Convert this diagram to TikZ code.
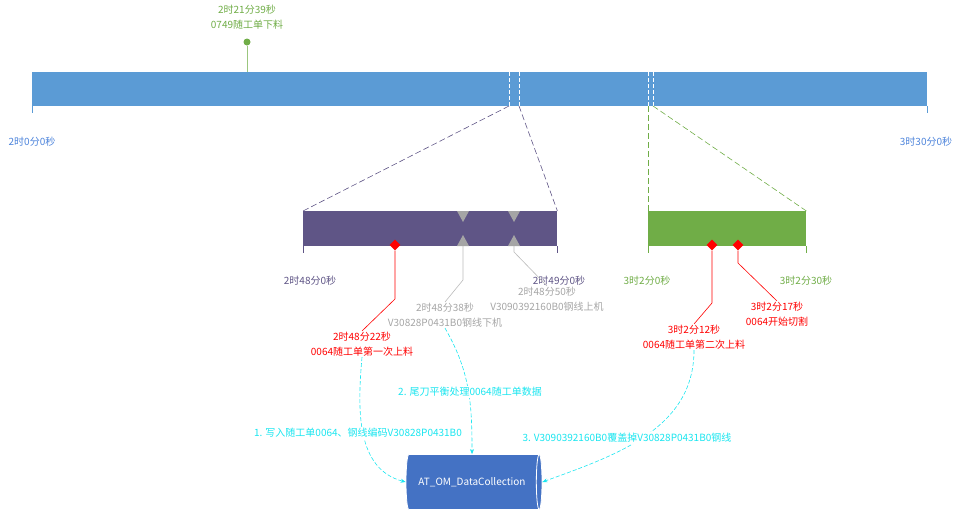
\documentclass[tikz,border=0pt]{standalone}
\usepackage{fontspec}
\setmainfont{Noto Sans CJK SC}
\usetikzlibrary{positioning,shapes.geometric,arrows.meta}
\tikzstyle{timeline} = [x = 1pt, y = -1pt, every node/.style={font=\fontsize{10}{14.5}\selectfont, inner sep=1pt, align=center}]
\definecolor{barBlue}{HTML}{5B9BD5}
\definecolor{zoomPurple}{HTML}{5F5586}
\definecolor{zoomGreen}{HTML}{70AD47}
\definecolor{markGrey}{HTML}{A5A5A5}
\definecolor{stepCyan}{HTML}{1AE6F0}
\definecolor{dbBlue}{HTML}{4472C4}
\tikzstyle{barStyle} = [rectangle, inner sep=0pt, anchor=north west]
\tikzstyle{bandLine} = [white, dash pattern=on 4pt off 2pt, line width=.8pt]
\tikzstyle{zoomLine} = [dash pattern=on 6pt off 3pt, line width=.6pt]
\tikzstyle{eventMark} = [diamond, fill=red, inner sep=0pt, minimum size=11pt]
\tikzstyle{eventLeader} = [red, line width=.6pt]
\tikzstyle{wireLeader} = [markGrey!75, line width=.6pt]
\tikzstyle{eventText} = [red, anchor=north]
\tikzstyle{wireText} = [markGrey, anchor=north]
\tikzstyle{stepArrow} = [stepCyan, dash pattern=on 4pt off 2pt, line width=.6pt, -{Stealth[length=5pt,width=4pt]}]
\tikzstyle{stepText} = [stepCyan, fill=white]
\newcommand{\wireMarker}[2]{
  \fill [markGrey] (#1 - 6, 211) -- (#1 + 6, 211) -- (#1, 222) -- cycle;
  \fill [markGrey] (#1 - 6, 246) -- (#1 + 6, 246) -- (#1, 235) -- cycle;
  \coordinate (#2) at (#1, 246);
}
\newcommand{\barTicks}[3]{
  \draw [#3, line width=.8pt] (#1) -- +(0,7);
  \draw [#3, line width=.8pt] (#2) -- +(0,7);
}

\begin{document}
\begin{tikzpicture}[timeline]
  \useasboundingbox (0,0) rectangle (961,512);
  % whole shift
  \node [barStyle, fill=barBlue, minimum width=895pt, minimum height=34pt] (mainBar) at (32,72) {};
  \barTicks{mainBar.south west}{mainBar.south east}{barBlue}
  \foreach \x in {509,519,648,653} {
    \draw [bandLine] (\x,72) -- (\x,106);
  }
  \coordinate (purpleLeft) at (509,106);
  \coordinate (purpleRight) at (519,106);
  \coordinate (greenLeft) at (648,106);
  \coordinate (greenRight) at (653,106);
  \node [barBlue!85!blue] (startTime) at (32,142) {2时0分0秒};
  \node [barBlue!85!blue] (endTime) at (926,142) {3时30分0秒};
  \node [circle, fill=zoomGreen, inner sep=0pt, minimum size=7pt] (cutPin) at (247,42) {};
  \node [zoomGreen, anchor=south] (cutText) at (247,30) {2时21分39秒\\0749随工单下料};
  \draw [zoomGreen!70, line width=.8pt] (cutPin) -- (cutPin |- mainBar.north);

  % zoomed bars
  \node [barStyle, fill=zoomPurple, minimum width=254pt, minimum height=35pt] (purpleBar) at (303,211) {};
  \node [barStyle, fill=zoomGreen, minimum width=158pt, minimum height=35pt] (greenBar) at (648,211) {};
  \barTicks{purpleBar.south west}{purpleBar.south east}{zoomPurple}
  \barTicks{greenBar.south west}{greenBar.south east}{zoomGreen}
  \draw [zoomLine, zoomPurple] (purpleLeft) -- (purpleBar.north west);
  \draw [zoomLine, zoomPurple] (purpleRight) -- (purpleBar.north east);
  \draw [zoomLine, zoomGreen] (greenLeft) -- (greenBar.north west);
  \draw [zoomLine, zoomGreen] (greenRight) -- (greenBar.north east);
  \node [zoomPurple] (purpleStart) at (310,281) {2时48分0秒};
  \node [zoomPurple] (purpleEnd) at (559,281) {2时49分0秒};
  \node [zoomGreen] (greenStart) at (647,281) {3时2分0秒};
  \node [zoomGreen] (greenEnd) at (806,281) {3时2分30秒};

  % wire changes
  \wireMarker{463}{wireOff}
  \wireMarker{514}{wireOn}
  \node [wireText] (wireOffText) at (445,302) {2时48分38秒\\V30828P0431B0钢线下机};
  \node [wireText] (wireOnText) at (547,286) {2时48分50秒\\V3090392160B0钢线上机};
  \draw [wireLeader] (wireOff) -- ++(0,34) -- (wireOffText.north);
  \draw [wireLeader] (wireOn) -- ++(0,6) -- (wireOnText.north);

  % order events
  \node [eventMark] (firstLoad) at (395,245) {};
  \node [eventMark] (secondLoad) at (712,245) {};
  \node [eventMark] (cutStart) at (738,245) {};
  \node [eventText] (firstLoadText) at (362,331) {2时48分22秒\\0064随工单第一次上料};
  \node [eventText] (secondLoadText) at (694,324) {3时2分12秒\\0064随工单第二次上料};
  \node [eventText] (cutStartText) at (777,301) {3时2分17秒\\0064开始切割};
  \draw [eventLeader] (firstLoad) -- ++(0,54) -- (firstLoadText.north);
  \draw [eventLeader] (secondLoad) -- ++(0,58) -- (secondLoadText.north);
  \draw [eventLeader] (cutStart) -- ++(0,18) -- (cutStartText.north);

  % database
  \node [cylinder, fill=dbBlue, draw=white, line width=.8pt, shape aspect=.5, minimum width=55pt, minimum height=136pt, text=white] (dataTable) at (472,482) {AT\_OM\_DataCollection};
  \draw [stepArrow] (firstLoadText.south) to [out=-95, in=165] (dataTable.west);
  \draw [stepArrow] (wireOffText.south) to [out=-60, in=90] (dataTable.north);
  \draw [stepArrow] (secondLoadText.south) to [out=-90, in=20] (dataTable.east);
  \node [stepText] (stepOne) at (358,433) {1. 写入随工单0064、钢线编码V30828P0431B0};
  \node [stepText] (stepTwo) at (470,392) {2. 尾刀平衡处理0064随工单数据};
  \node [stepText] (stepThree) at (627,438) {3. V3090392160B0覆盖掉V30828P0431B0钢线};
\end{tikzpicture}
\end{document}
